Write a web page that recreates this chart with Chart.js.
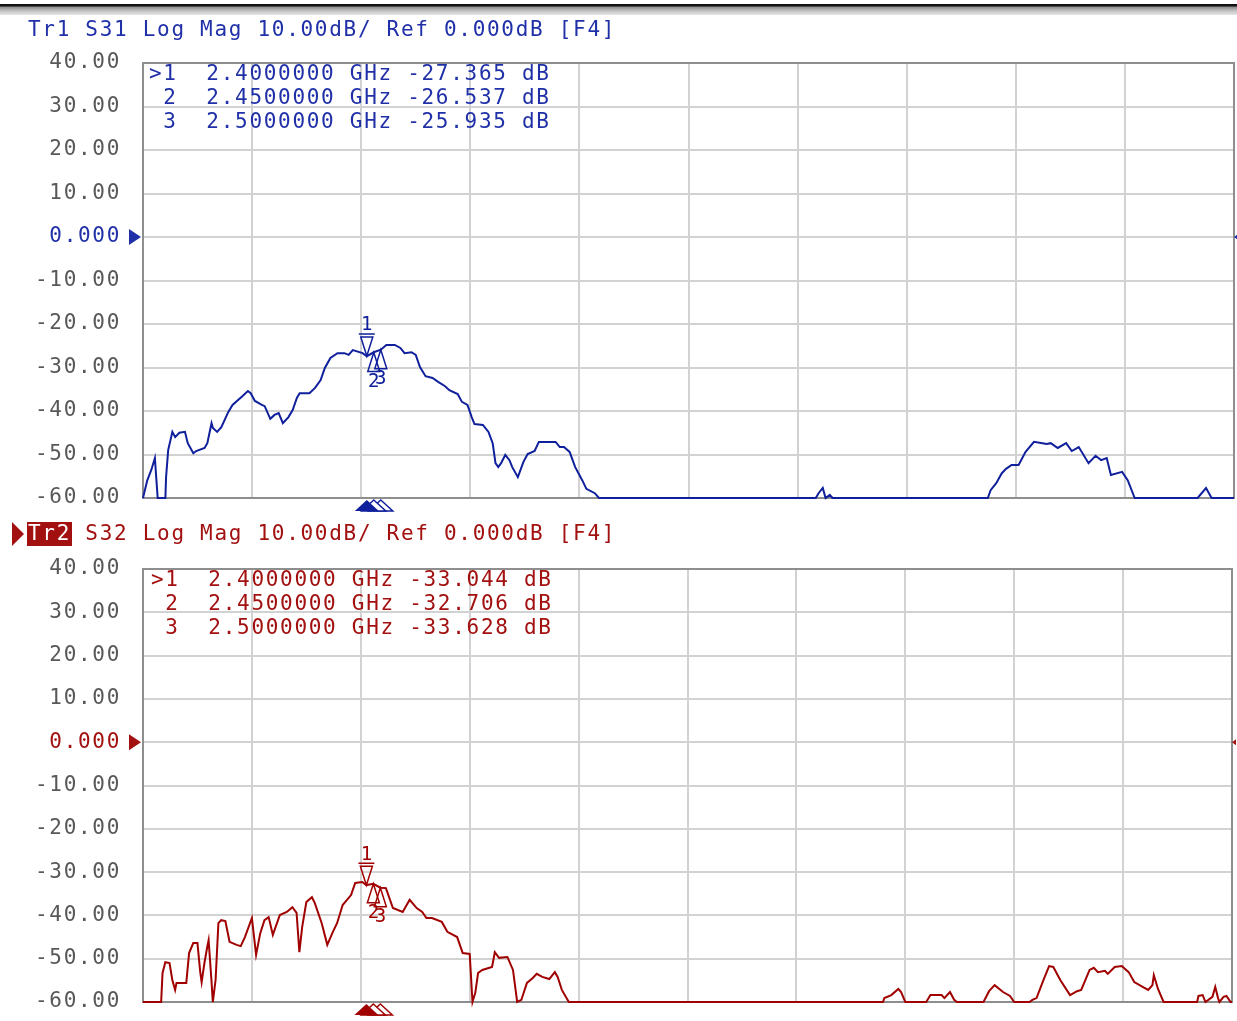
<!DOCTYPE html>
<html>
<head>
<meta charset="utf-8">
<script src="https://cdn.jsdelivr.net/npm/chart.js@4.4.1/dist/chart.umd.min.js"></script>
<style>
  body { margin: 0; background: #fff; width: 1237px; height: 1021px; overflow: hidden; position: relative; }
  #topbar { position: absolute; left: 0; top: 4px; width: 1237px; height: 11px;
    background: linear-gradient(#111 0, #111 2px, #8c8c8c 3px, #c4c4c4 7px, #e6e6e6 11px); }
  canvas { position: absolute; left: 0; }
  #s31 { top: 14px; }
  #s32 { top: 520px; }
</style>
</head>
<body>
<div id="topbar"></div>
<canvas id="s31" width="1237" height="506"></canvas>
<canvas id="s32" width="1237" height="501"></canvas>
<script>
// sweep and marker settings
const startGHz = 0.8;
const stopGHz = 8.6;
const yTicks = [40, 30, 20, 10, 0, -10, -20, -30, -40, -50, -60];
const markerFreqs = [2.4, 2.45, 2.5];
const s31Markers = [-27.365, -26.537, -25.935];
const s32Markers = [-33.044, -32.706, -33.628];

// Tr1 S31 trace (GHz / dB)
const s31Freq = [0.80, 0.83, 0.86, 0.885, 0.895, 0.905, 0.96, 0.965, 0.98, 1.01, 1.03, 1.06, 1.10, 1.12, 1.16, 1.18,
  1.24, 1.26, 1.29, 1.30, 1.33, 1.36, 1.41, 1.44, 1.51, 1.55, 1.57, 1.60, 1.65, 1.67, 1.71, 1.74, 1.77, 1.80,
  1.84, 1.87, 1.90, 1.92, 1.99, 2.03, 2.07, 2.10, 2.14, 2.19, 2.24, 2.27, 2.30, 2.37, 2.40, 2.45, 2.50, 2.54,
  2.60, 2.64, 2.67, 2.72, 2.75, 2.78, 2.82, 2.87, 2.91, 2.96, 2.99, 3.05, 3.08, 3.12, 3.15, 3.17, 3.23, 3.27,
  3.30, 3.32, 3.34, 3.36, 3.39, 3.42, 3.44, 3.48, 3.52, 3.55, 3.60, 3.63, 3.75, 3.78, 3.81, 3.85, 3.89, 3.94,
  3.97, 4.03, 4.06, 5.61, 5.63, 5.66, 5.68, 5.71, 5.73, 6.84, 6.86, 6.90, 6.94, 6.97, 7.01, 7.06, 7.11, 7.17,
  7.23, 7.26, 7.29, 7.34, 7.40, 7.44, 7.49, 7.56, 7.61, 7.65, 7.69, 7.72, 7.80, 7.84, 7.89, 8.34, 8.40, 8.44, 8.60];
const s31Mag = [-60, -56, -53.5, -50.8, -55.5, -60, -60, -55.2, -49.0, -44.8, -46.0, -45.0, -44.8, -47.4, -49.7, -49.2,
  -48.5, -47.4, -42.8, -43.9, -44.8, -43.7, -40.2, -38.6, -36.6, -35.4, -35.9, -37.7, -38.6, -38.9, -41.8, -40.9, -40.5, -42.8,
  -41.4, -39.8, -37.0, -35.9, -35.9, -34.7, -32.9, -30.1, -27.8, -26.7, -26.7, -27.1, -26.0, -26.7, -27.4, -26.5, -25.9, -24.8,
  -24.8, -25.5, -26.7, -26.5, -27.1, -29.9, -32.0, -32.4, -33.3, -34.3, -35.2, -36.1, -37.9, -38.6, -41.4, -43.0, -43.2, -44.8,
  -47.4, -52.0, -52.9, -52.0, -50.1, -51.3, -52.9, -55.2, -51.7, -49.9, -49.2, -47.1, -47.1, -48.3, -48.3, -49.4, -52.9, -55.9,
  -57.9, -58.9, -60, -60, -58.9, -57.7, -60, -59.3, -60, -60, -58.2, -56.6, -54.3, -53.3, -52.4, -52.4, -49.4, -47.1,
  -47.4, -47.6, -47.4, -48.5, -47.4, -49.2, -48.3, -52.0, -50.3, -51.3, -50.8, -54.7, -54.0, -55.9, -60, -60, -57.7, -60, -60];

// Tr2 S32 trace (GHz / dB)
const s32Freq = [0.80, 0.93, 0.94, 0.96, 0.99, 1.01, 1.03, 1.04, 1.11, 1.13, 1.16, 1.19, 1.21, 1.22, 1.24, 1.26,
  1.27, 1.29, 1.30, 1.32, 1.34, 1.36, 1.39, 1.42, 1.47, 1.50, 1.53, 1.58, 1.61, 1.64, 1.67, 1.70, 1.73, 1.78,
  1.83, 1.87, 1.90, 1.92, 1.94, 1.97, 2.01, 2.03, 2.08, 2.12, 2.16, 2.19, 2.23, 2.29, 2.32, 2.37, 2.40, 2.45,
  2.50, 2.54, 2.59, 2.66, 2.71, 2.76, 2.80, 2.83, 2.87, 2.94, 2.98, 3.05, 3.09, 3.14, 3.16, 3.18, 3.20, 3.23,
  3.30, 3.32, 3.35, 3.41, 3.45, 3.48, 3.51, 3.55, 3.59, 3.62, 3.66, 3.71, 3.75, 3.77, 3.80, 3.85, 6.10, 6.11,
  6.16, 6.21, 6.23, 6.26, 6.41, 6.44, 6.52, 6.54, 6.58, 6.61, 6.63, 6.82, 6.86, 6.90, 6.96, 7.01, 7.04, 7.15,
  7.17, 7.20, 7.25, 7.29, 7.32, 7.37, 7.44, 7.49, 7.52, 7.58, 7.61, 7.64, 7.69, 7.71, 7.76, 7.81, 7.86, 7.90,
  7.96, 8.00, 8.03, 8.04, 8.07, 8.11, 8.35, 8.36, 8.39, 8.41, 8.46, 8.48, 8.50, 8.51, 8.54, 8.56, 8.59, 8.60];
const s32Mag = [-60, -60, -53.3, -50.8, -51.0, -54.9, -57.2, -55.6, -55.6, -48.7, -46.4, -46.4, -53.1, -55.4, -51.0, -47.3,
  -45.7, -54.9, -60, -54.9, -41.8, -41.1, -41.3, -46.1, -46.8, -47.1, -45.0, -40.6, -49.1, -44.1, -41.1, -40.4, -44.5, -39.9,
  -39.2, -38.1, -39.4, -48.5, -42.7, -36.9, -35.8, -37.1, -41.8, -46.8, -43.8, -41.8, -37.6, -35.3, -32.5, -32.3, -33.0, -32.7,
  -33.6, -33.7, -38.3, -39.2, -36.4, -38.3, -39.2, -40.6, -40.6, -41.5, -43.8, -45.0, -48.7, -48.9, -60, -57.9, -53.3, -52.6,
  -51.9, -48.5, -49.8, -49.6, -52.6, -60, -59.5, -55.6, -54.5, -53.5, -54.2, -54.7, -53.1, -54.2, -57.2, -60, -60, -59.1,
  -58.4, -57.0, -57.7, -60, -60, -58.4, -58.4, -59.1, -57.7, -59.5, -60, -60, -57.5, -56.1, -57.7, -58.6, -60, -60,
  -59.5, -59.1, -54.9, -51.7, -51.9, -54.9, -58.4, -57.5, -57.2, -52.6, -52.1, -53.1, -52.8, -53.5, -51.9, -51.7, -53.1, -55.4,
  -56.5, -57.2, -56.1, -53.8, -57.0, -60, -60, -58.6, -58.4, -60, -58.8, -56.5, -59.1, -60, -58.8, -58.6, -60, -60];

const MONO = '"DejaVu Sans Mono", monospace';
const SPACING = '1.7px';
const gridColor = '#d2d2d2';

// 10 divisions across the sweep
const xGrid = Array.from({ length: 11 }, (_, i) => startGHz + (i * (stopGHz - startGHz)) / 10);

function vnaOverlay(o) {
  return {
    id: 'vna_' + o.param,
    beforeDraw(chart) {
      chart.ctx.letterSpacing = SPACING;
    },
    beforeDatasetsDraw(chart) {
      const { ctx, chartArea: a } = chart;
      ctx.save();
      ctx.strokeStyle = '#8e8e8e';
      ctx.lineWidth = 2;
      ctx.strokeRect(a.left, a.top, a.right - a.left, a.bottom - a.top);
      ctx.restore();
    },
    afterDraw(chart) {
      const { ctx, chartArea: a } = chart;
      const xs = chart.scales.x;
      const ys = chart.scales.y;
      ctx.save();
      ctx.letterSpacing = SPACING;
      ctx.font = '21px ' + MONO;
      ctx.textBaseline = 'alphabetic';
      ctx.textAlign = 'left';

      // header line
      const rest = ' ' + o.param + ' Log Mag 10.00dB/ Ref 0.000dB [F4]';
      let x = 28;
      if (o.active) {
        ctx.fillStyle = o.text;
        ctx.beginPath();
        ctx.moveTo(12, o.headY - 18);
        ctx.lineTo(24, o.headY - 6);
        ctx.lineTo(12, o.headY + 6);
        ctx.closePath();
        ctx.fill();
        ctx.fillRect(27, o.headY - 18, 45, 24);
        ctx.fillStyle = '#fff';
      } else {
        ctx.fillStyle = o.text;
      }
      ctx.fillText(o.trace, x, o.headY);
      x += ctx.measureText(o.trace).width;
      ctx.fillStyle = o.text;
      ctx.fillText(rest, x, o.headY);

      // reference level arrows
      const y0 = ys.getPixelForValue(0);
      ctx.beginPath();
      ctx.moveTo(129, y0 - 8);
      ctx.lineTo(141, y0);
      ctx.lineTo(129, y0 + 8);
      ctx.closePath();
      ctx.fill();
      ctx.beginPath();
      ctx.moveTo(a.right, y0);
      ctx.lineTo(a.right + 4, y0 - 3);
      ctx.lineTo(a.right + 4, y0 + 3);
      ctx.closePath();
      ctx.fill();

      // marker table
      ctx.textBaseline = 'middle';
      o.markers.forEach((v, i) => {
        const row = (i === 0 ? '>' : ' ') + (i + 1) + '  ' + markerFreqs[i].toFixed(7) + ' GHz ' + v.toFixed(3) + ' dB';
        ctx.fillText(row, a.left + o.tableX, a.top + 12 + i * 24);
      });

      // marker symbols on the trace
      ctx.strokeStyle = o.color;
      ctx.fillStyle = o.color;
      ctx.lineWidth = 1.5;
      ctx.font = '19px ' + MONO;
      ctx.letterSpacing = '0px';
      ctx.textAlign = 'center';
      o.markers.forEach((v, i) => {
        const mx = xs.getPixelForValue(markerFreqs[i]);
        const my = ys.getPixelForValue(v);
        ctx.beginPath();
        if (i === 0) {
          ctx.moveTo(mx - 6, my - 19);
          ctx.lineTo(mx + 6, my - 19);
          ctx.lineTo(mx, my);
          ctx.closePath();
          ctx.moveTo(mx - 8, my - 22);
          ctx.lineTo(mx + 8, my - 22);
          ctx.stroke();
          ctx.textBaseline = 'bottom';
          ctx.fillText(String(i + 1), mx, my - 21);
        } else {
          ctx.moveTo(mx, my);
          ctx.lineTo(mx - 6, my + 19);
          ctx.lineTo(mx + 6, my + 19);
          ctx.closePath();
          ctx.stroke();
          ctx.textBaseline = 'top';
          ctx.fillText(String(i + 1), mx, my + 20);
        }
      });

      // marker position indicators under the grid
      const base = a.bottom + 13;
      for (let i = markerFreqs.length - 1; i >= 0; i--) {
        const mx = xs.getPixelForValue(markerFreqs[i]);
        ctx.beginPath();
        ctx.moveTo(mx, a.bottom + 2);
        ctx.lineTo(mx + 12, base);
        ctx.lineTo(mx - 12, base);
        ctx.closePath();
        if (i === 0) {
          ctx.fill();
        } else {
          ctx.fillStyle = '#fff';
          ctx.fill();
          ctx.fillStyle = o.color;
          ctx.stroke();
        }
      }
      ctx.restore();
    },
  };
}

function makePanel(canvasId, o) {
  const ctx = document.getElementById(canvasId).getContext('2d');
  return new Chart(ctx, {
    type: 'line',
    data: {
      datasets: [
        {
          data: o.freq.map((f, i) => ({ x: f, y: o.mag[i] })),
          borderColor: o.color,
          borderWidth: 2,
          pointRadius: 0,
          tension: 0,
          clip: 6,
        },
      ],
    },
    options: {
      responsive: false,
      animation: false,
      events: [],
      layout: { padding: o.pad },
      plugins: { legend: { display: false }, tooltip: { enabled: false } },
      scales: {
        x: {
          type: 'linear',
          min: startGHz,
          max: stopGHz,
          afterBuildTicks: (s) => {
            s.ticks = xGrid.map((v) => ({ value: v }));
          },
          afterFit: (s) => {
            s.height = 0;
            s.paddingLeft = 0;
            s.paddingRight = 0;
          },
          ticks: { display: false },
          grid: { color: gridColor, lineWidth: 2, drawTicks: false },
          border: { display: false },
        },
        y: {
          min: -60,
          max: 40,
          afterBuildTicks: (s) => {
            s.ticks = yTicks.map((v) => ({ value: v }));
          },
          afterFit: (s) => {
            s.width = 143;
            s.paddingTop = 0;
            s.paddingBottom = 0;
          },
          ticks: {
            callback: (v) => (v === 0 ? '0.000' : v.toFixed(2)),
            color: (c) => (c.tick && c.tick.value === 0 ? o.text : '#585858'),
            font: { family: MONO, size: 21 },
            padding: 22,
          },
          grid: { color: gridColor, lineWidth: 2, drawTicks: false },
          border: { display: false },
        },
      },
    },
    plugins: [vnaOverlay(o)],
  });
}

makePanel('s31', {
  param: 'S31',
  trace: 'Tr1',
  active: false,
  freq: s31Freq,
  mag: s31Mag,
  markers: s31Markers,
  color: '#10209c',
  text: '#2030a8',
  headY: 22,
  tableX: 6,
  pad: { top: 49, right: 3, bottom: 22, left: 0 },
});

makePanel('s32', {
  param: 'S32',
  trace: 'Tr2',
  active: true,
  freq: s32Freq,
  mag: s32Mag,
  markers: s32Markers,
  color: '#a00000',
  text: '#a31010',
  headY: 20,
  tableX: 8,
  pad: { top: 49, right: 5, bottom: 19, left: 0 },
});
</script>
</body>
</html>
